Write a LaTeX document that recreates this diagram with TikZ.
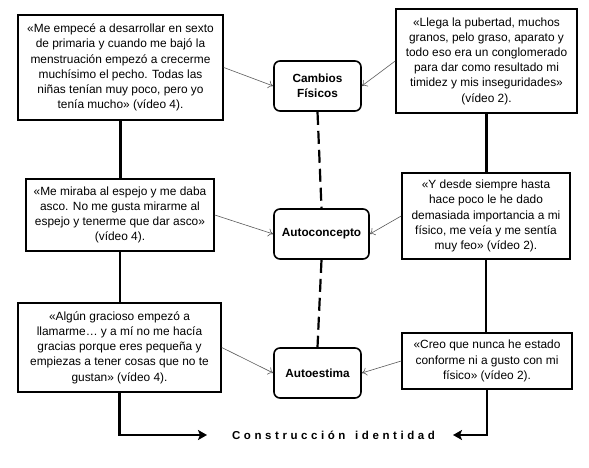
\documentclass[tikz,border=0pt]{standalone}
\usepackage{fontspec}
\setmainfont{Liberation Sans}
\usetikzlibrary{arrows.meta}

\begin{document}
\begin{tikzpicture}[
		x=1pt, y=-1pt,
		quote/.style={draw, line width=1.6pt, align=center, inner sep=2pt,
			font=\fontsize{11.9}{15.2}\selectfont},
		concept/.style={draw, line width=1.6pt, rounded corners=6pt, align=center,
			font=\bfseries\fontsize{11.8}{15}\selectfont, minimum height=50, minimum width=87},
		link/.style={draw=black!65, line width=0.6pt, -{To[length=5pt,width=8pt]}},
		trunk/.style={line width=2.2pt},
		together/.style={line width=2.2pt, dash pattern=on 13pt off 6pt},
		goal/.style={line width=2.2pt, -{Stealth[length=9pt,width=10pt,inset=2pt]}}]
		\useasboundingbox (0,0) rectangle (589,467);

		\node[quote, minimum width=205, minimum height=105] (b1) at (120.5,67.5)
			{«Me empecé a desarrollar en sexto\\de primaria y cuando me bajó la\\menstruación empezó a crecerme\\muchísimo el pecho. Todas las\\niñas tenían muy poco, pero yo\\tenía mucho» (vídeo 4).};
		\node[quote, minimum width=181, minimum height=104] (b2) at (486.5,61)
			{«Llega la pubertad, muchos\\granos, pelo graso, aparato y\\todo eso era un conglomerado\\para dar como resultado mi\\timidez y mis inseguridades»\\(vídeo 2).};
		\node[quote, minimum width=188, minimum height=72] (b3) at (120,215)
			{«Me miraba al espejo y me daba\\asco. No me gusta mirarme al\\espejo y tenerme que dar asco»\\(vídeo 4).};
		\node[quote, minimum width=168, minimum height=86] (b4) at (486,216)
			{«Y desde siempre hasta\\hace poco le he dado\\demasiada importancia a mi\\físico, me veía y me sentía\\muy feo» (vídeo 2).};
		\node[quote, minimum width=203, minimum height=89] (b5) at (119.5,347.5)
			{«Algún gracioso empezó a\\llamarme… y a mí no me hacía\\gracias porque eres pequeña y\\empiezas a tener cosas que no te\\gustan» (vídeo 4).};
		\node[quote, minimum width=170, minimum height=56] (b6) at (487,361)
			{«Creo que nunca he estado\\conforme ni a gusto con mi\\físico» (vídeo 2).};

		\node[concept] (cf) at (317.5,86) {Cambios\\Físicos};
		\node[concept, minimum width=95] (ac) at (321.5,234) {Autoconcepto};
		\node[concept] (ae) at (317.5,373) {Autoestima};

		\node[font=\bfseries\fontsize{11.5}{12}\selectfont\addfontfeature{LetterSpace=31},
			inner sep=0pt] (ci) at (333.5,435) {Construcción\hspace{3pt} identidad};
		\coordinate (cl) at (207,435);
		\coordinate (cr) at (453,435);

		% left and right columns
		\draw[trunk] (b1.south) -- (b1.south |- b3.north);
		\draw[trunk] (b3.south) -- (b3.south |- b5.north);
		\draw[trunk] (b2.south) -- (b2.south |- b4.north);
		\draw[trunk] (b4.south) -- (b4.south |- b6.north);
		\draw[goal] (b5.south) |- (cl);
		\draw[goal] (b6.south) |- (cr);

		\draw[together] (cf.south) -- (ac.north);
		\draw[together] (ac.south) -- (ae.north);

		\draw[link] (b1.east) -- (cf.west);
		\draw[link] (b2.west) -- (cf.east);
		\draw[link] (b3.east) -- (ac.west);
		\draw[link] (b4.west) -- (ac.east);
		\draw[link] (b5.east) -- (ae.west);
		\draw[link] (b6.west) -- (ae.east);
\end{tikzpicture}
\end{document}
